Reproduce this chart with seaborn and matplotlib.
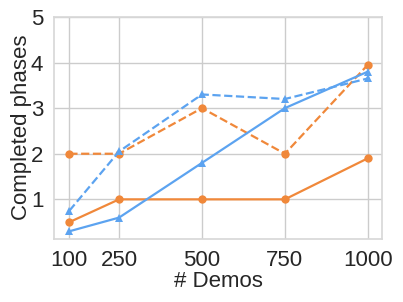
import numpy as np
import pandas as pd
import seaborn as sns
import matplotlib
matplotlib.use('Agg')
import matplotlib.pyplot as plt

# data
demos = [100, 250, 500, 750, 1000]
orange_solid = [0.5, 1.0, 1.0, 1.0, 1.9]
orange_dashed = [2.0, 2.0, 3.0, 2.0, 3.95]
blue_solid = [0.3, 0.6, 1.8, 3.0, 3.8]
blue_dashed = [0.75, 2.05, 3.3, 3.2, 3.65]

orange = '#F0883A'
blue = '#5CA3F0'

sns.set_theme(style='whitegrid')
plt.rcParams['font.family'] = ['Arial', 'Liberation Sans', 'DejaVu Sans']

fig, ax = plt.subplots(figsize=(4.03, 3.02), dpi=100)

series = [
    (orange_solid, orange, '-', 'o'),
    (orange_dashed, orange, '--', 'o'),
    (blue_solid, blue, '-', '^'),
    (blue_dashed, blue, '--', '^'),
]
for vals, c, ls, mk in series:
    sns.lineplot(x=demos, y=vals, ax=ax, color=c, linestyle=ls, marker=mk,
                 markersize=6, markeredgewidth=0, linewidth=1.6)

ax.set_xlim(55, 1043)
ax.set_ylim(0.14, 5.0)
ax.set_xticks(demos)
ax.set_yticks([1, 2, 3, 4, 5])
ax.tick_params(labelsize=16, pad=2)
ax.set_xlabel('# Demos', fontsize=16, labelpad=0)
ax.set_ylabel('Completed phases', fontsize=16, labelpad=-1)
for s in ax.spines.values():
    s.set_color('#d8d8d8')

fig.subplots_adjust(left=0.135, right=0.948, top=0.944, bottom=0.21)
fig.savefig('out.png', dpi=100)
